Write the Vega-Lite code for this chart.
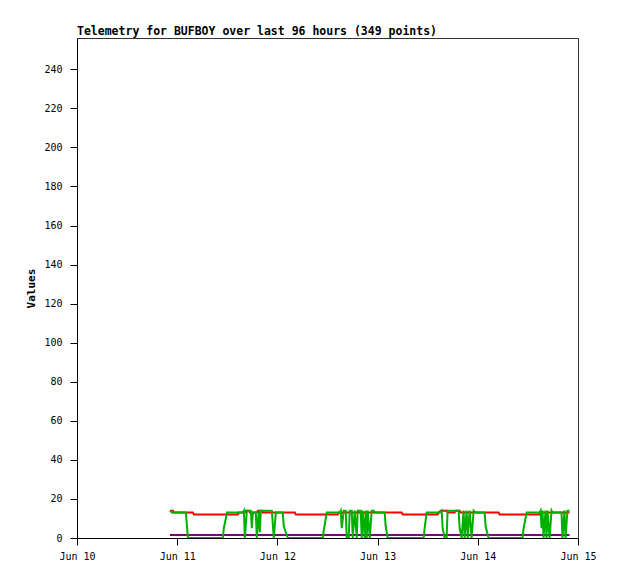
{
  "$schema": "https://vega.github.io/schema/vega-lite/v6.json",
  "width": 501,
  "height": 500,
  "autosize": {"type": "none"},
  "padding": {"left": 77, "top": 38, "right": 40, "bottom": 41},
  "background": "white",
  "title": {
    "text": "Telemetry for BUFBOY over last 96 hours (349 points)",
    "anchor": "start",
    "frame": "group",
    "font": "DejaVu Sans Mono",
    "fontSize": 11.5,
    "fontWeight": "bold",
    "color": "#000",
    "offset": 1
  },
  "config": {
    "view": {"stroke": "#333", "strokeWidth": 1},
    "axis": {
      "labelFont": "DejaVu Sans Mono",
      "labelFontSize": 10,
      "labelColor": "#000",
      "domainColor": "#000",
      "tickColor": "#000",
      "tickSize": 7,
      "grid": false,
      "titleFont": "DejaVu Sans Mono",
      "titleFontSize": 11,
      "titleFontWeight": "bold",
      "titleColor": "#000"
    }
  },
  "datasets": {
    "red": [
      {"t": "2024-06-10T22:15", "v": 14}, {"t": "2024-06-10T22:58", "v": 14}, {"t": "2024-06-10T23:13", "v": 13},
      {"t": "2024-06-11T03:45", "v": 13}, {"t": "2024-06-11T04:00", "v": 12}, {"t": "2024-06-11T14:32", "v": 12},
      {"t": "2024-06-11T14:46", "v": 13}, {"t": "2024-06-11T16:12", "v": 13}, {"t": "2024-06-11T16:26", "v": 14},
      {"t": "2024-06-11T17:09", "v": 14}, {"t": "2024-06-11T17:24", "v": 13}, {"t": "2024-06-11T19:04", "v": 13},
      {"t": "2024-06-11T19:19", "v": 14}, {"t": "2024-06-11T20:16", "v": 14}, {"t": "2024-06-11T20:30", "v": 13},
      {"t": "2024-06-12T04:10", "v": 13}, {"t": "2024-06-12T04:24", "v": 12}, {"t": "2024-06-12T14:27", "v": 12},
      {"t": "2024-06-12T14:42", "v": 13}, {"t": "2024-06-13T05:46", "v": 13}, {"t": "2024-06-13T06:00", "v": 12},
      {"t": "2024-06-13T14:23", "v": 12}, {"t": "2024-06-13T14:37", "v": 13}, {"t": "2024-06-13T15:06", "v": 14},
      {"t": "2024-06-13T16:32", "v": 14}, {"t": "2024-06-13T16:46", "v": 13}, {"t": "2024-06-13T18:27", "v": 13},
      {"t": "2024-06-13T18:41", "v": 14}, {"t": "2024-06-13T19:39", "v": 14}, {"t": "2024-06-13T19:53", "v": 13},
      {"t": "2024-06-14T04:59", "v": 13}, {"t": "2024-06-14T05:13", "v": 12}, {"t": "2024-06-14T14:47", "v": 12},
      {"t": "2024-06-14T15:02", "v": 13}, {"t": "2024-06-14T21:58", "v": 13}
    ],
    "green": [
      {"t": "2024-06-10T22:15", "v": 14}, {"t": "2024-06-10T22:44", "v": 13}, {"t": "2024-06-11T02:05", "v": 13},
      {"t": "2024-06-11T02:34", "v": 0}, {"t": "2024-06-11T10:56", "v": 0}, {"t": "2024-06-11T11:10", "v": 5},
      {"t": "2024-06-11T11:39", "v": 10}, {"t": "2024-06-11T11:54", "v": 13}, {"t": "2024-06-11T15:43", "v": 13},
      {"t": "2024-06-11T15:58", "v": 14}, {"t": "2024-06-11T16:12", "v": 0}, {"t": "2024-06-11T16:41", "v": 14},
      {"t": "2024-06-11T17:38", "v": 14}, {"t": "2024-06-11T17:52", "v": 5}, {"t": "2024-06-11T18:07", "v": 13},
      {"t": "2024-06-11T18:50", "v": 13}, {"t": "2024-06-11T19:04", "v": 0}, {"t": "2024-06-11T19:33", "v": 14},
      {"t": "2024-06-11T19:47", "v": 3}, {"t": "2024-06-11T20:02", "v": 14}, {"t": "2024-06-11T22:40", "v": 14},
      {"t": "2024-06-11T23:08", "v": 0}, {"t": "2024-06-11T23:37", "v": 13}, {"t": "2024-06-12T01:17", "v": 13},
      {"t": "2024-06-12T01:32", "v": 6}, {"t": "2024-06-12T02:29", "v": 0}, {"t": "2024-06-12T10:52", "v": 0},
      {"t": "2024-06-12T11:06", "v": 4}, {"t": "2024-06-12T11:35", "v": 10}, {"t": "2024-06-12T11:49", "v": 13},
      {"t": "2024-06-12T14:56", "v": 13}, {"t": "2024-06-12T15:10", "v": 14}, {"t": "2024-06-12T15:25", "v": 5},
      {"t": "2024-06-12T15:53", "v": 14}, {"t": "2024-06-12T16:22", "v": 14}, {"t": "2024-06-12T16:36", "v": 0},
      {"t": "2024-06-12T17:05", "v": 0}, {"t": "2024-06-12T17:19", "v": 14}, {"t": "2024-06-12T17:48", "v": 14},
      {"t": "2024-06-12T18:03", "v": 0}, {"t": "2024-06-12T18:31", "v": 14}, {"t": "2024-06-12T19:00", "v": 0},
      {"t": "2024-06-12T19:14", "v": 14}, {"t": "2024-06-12T19:57", "v": 14}, {"t": "2024-06-12T20:12", "v": 0},
      {"t": "2024-06-12T20:26", "v": 14}, {"t": "2024-06-12T20:55", "v": 0}, {"t": "2024-06-12T21:09", "v": 14},
      {"t": "2024-06-12T21:24", "v": 0}, {"t": "2024-06-12T21:38", "v": 14}, {"t": "2024-06-12T22:07", "v": 0},
      {"t": "2024-06-12T22:35", "v": 14}, {"t": "2024-06-12T23:04", "v": 14}, {"t": "2024-06-12T23:18", "v": 13},
      {"t": "2024-06-13T01:42", "v": 13}, {"t": "2024-06-13T01:56", "v": 6}, {"t": "2024-06-13T02:25", "v": 0},
      {"t": "2024-06-13T11:02", "v": 0}, {"t": "2024-06-13T11:16", "v": 5}, {"t": "2024-06-13T11:45", "v": 13},
      {"t": "2024-06-13T14:52", "v": 13}, {"t": "2024-06-13T15:20", "v": 14}, {"t": "2024-06-13T15:35", "v": 5},
      {"t": "2024-06-13T16:03", "v": 0}, {"t": "2024-06-13T16:32", "v": 0}, {"t": "2024-06-13T16:46", "v": 14},
      {"t": "2024-06-13T19:24", "v": 14}, {"t": "2024-06-13T19:39", "v": 5}, {"t": "2024-06-13T20:07", "v": 0},
      {"t": "2024-06-13T20:36", "v": 14}, {"t": "2024-06-13T20:50", "v": 0}, {"t": "2024-06-13T21:19", "v": 14},
      {"t": "2024-06-13T21:34", "v": 0}, {"t": "2024-06-13T22:02", "v": 14}, {"t": "2024-06-13T22:31", "v": 0},
      {"t": "2024-06-13T23:00", "v": 14}, {"t": "2024-06-13T23:28", "v": 13}, {"t": "2024-06-14T01:38", "v": 13},
      {"t": "2024-06-14T01:52", "v": 6}, {"t": "2024-06-14T02:35", "v": 0}, {"t": "2024-06-14T10:43", "v": 0},
      {"t": "2024-06-14T10:58", "v": 5}, {"t": "2024-06-14T11:26", "v": 10}, {"t": "2024-06-14T11:41", "v": 13},
      {"t": "2024-06-14T14:47", "v": 13}, {"t": "2024-06-14T15:02", "v": 14}, {"t": "2024-06-14T15:16", "v": 5},
      {"t": "2024-06-14T15:30", "v": 14}, {"t": "2024-06-14T15:45", "v": 0}, {"t": "2024-06-14T16:13", "v": 14},
      {"t": "2024-06-14T16:28", "v": 0}, {"t": "2024-06-14T16:42", "v": 14}, {"t": "2024-06-14T17:11", "v": 0},
      {"t": "2024-06-14T17:40", "v": 14}, {"t": "2024-06-14T17:54", "v": 13}, {"t": "2024-06-14T20:03", "v": 13},
      {"t": "2024-06-14T20:17", "v": 0}, {"t": "2024-06-14T20:46", "v": 14}, {"t": "2024-06-14T21:01", "v": 0},
      {"t": "2024-06-14T21:29", "v": 14}, {"t": "2024-06-14T21:58", "v": 14}
    ],
    "purple": [
      {"t": "2024-06-10T22:15", "v": 1.5}, {"t": "2024-06-12T00:00", "v": 1.5},
      {"t": "2024-06-13T12:00", "v": 1.5}, {"t": "2024-06-14T21:58", "v": 1.5}
    ]
  },
  "encoding": {
    "x": {
      "field": "t",
      "type": "temporal",
      "scale": {"domain": [{"year": 2024, "month": 6, "date": 10}, {"year": 2024, "month": 6, "date": 15}]},
      "axis": {"title": null, "format": "%b %d", "tickCount": {"interval": "day", "step": 1}, "labelPadding": 6, "labelFlush": false}
    },
    "y": {
      "field": "v",
      "type": "quantitative",
      "scale": {"domain": [0, 256], "nice": false},
      "axis": {"title": "Values", "values": [0, 20, 40, 60, 80, 100, 120, 140, 160, 180, 200, 220, 240], "labelPadding": 8, "titlePadding": 7}
    }
  },
  "layer": [
    {"data": {"name": "purple"}, "mark": {"type": "line", "color": "#800080", "strokeWidth": 2, "clip": true}},
    {"data": {"name": "red"}, "mark": {"type": "line", "color": "#ff0000", "strokeWidth": 2, "clip": true}},
    {"data": {"name": "green"}, "mark": {"type": "line", "color": "#00b000", "strokeWidth": 2, "clip": true}}
  ]
}
